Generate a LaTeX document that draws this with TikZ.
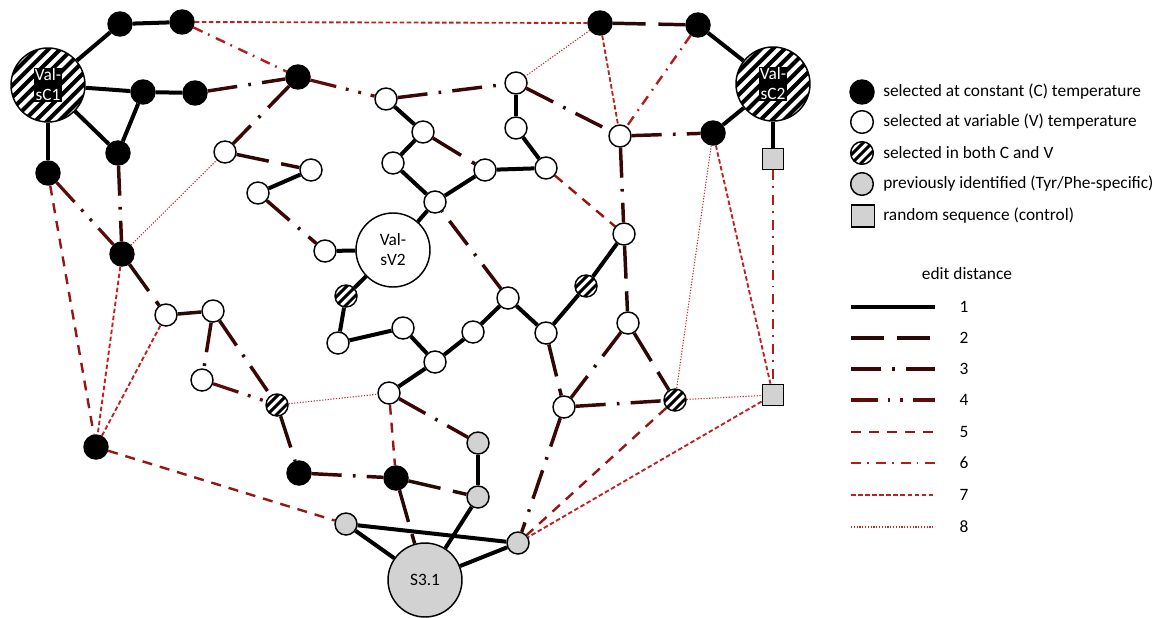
\documentclass[tikz,border=0pt]{standalone}
\usepackage{fontspec}
\setmainfont{Carlito}
\usetikzlibrary{backgrounds}
\definecolor{dtwo}{RGB}{42,8,6}
\definecolor{dthree}{RGB}{58,6,6}
\definecolor{dfour}{RGB}{92,12,12}
\definecolor{dfive}{RGB}{150,22,22}
\definecolor{dsix}{RGB}{178,28,28}
\definecolor{dseven}{RGB}{192,32,32}
\definecolor{deight}{RGB}{205,40,40}
\definecolor{seqgray}{RGB}{210,210,210}
\tikzset{
  base/.style={draw=black, line width=1.1pt, inner sep=0pt},
  cnode/.style={base, circle, fill=black, minimum size=18pt},
  vnode/.style={base, circle, fill=white, minimum size=16.5pt},
  pnode/.style={base, circle, fill=seqgray, minimum size=16.5pt},
  rnode/.style={base, rectangle, fill=seqgray, minimum size=16pt},
  hnode/.style={base, circle, fill=white, minimum size=16.5pt,
    path picture={\foreach \k in {-6,...,6}{
      \draw[line width=2.2pt] ([shift={(\k*3.4pt-20pt,-\k*3.4pt-20pt)}]path picture bounding box.center) -- ++(40pt,40pt);}}},
  hbig/.style={base, circle, fill=white, minimum size=55.5pt,
    path picture={\foreach \k in {-10,...,10}{
      \draw[line width=3pt] ([shift={(\k*4.4pt-45pt,-\k*4.4pt-45pt)}]path picture bounding box.center) -- ++(90pt,90pt);}}},
  vbig/.style={base, circle, fill=white, minimum size=55.5pt, align=center},
  pbig/.style={base, circle, fill=seqgray, minimum size=55.5pt},
  tag/.style={fill=black, text=white, align=center, inner xsep=0.8pt, inner ysep=1pt},
  lgtext/.style={anchor=west, inner sep=0pt},
  e1/.style={line width=3pt, black},
  e2/.style={line width=2.6pt, dtwo, dash pattern=on 24.7pt off 9.5pt},
  e3/.style={line width=2.6pt, dthree, dash pattern=on 22.5pt off 8.4pt on 2pt off 8.4pt},
  e4/.style={line width=2.4pt, dfour, dash pattern=on 20pt off 7.4pt on 2.2pt off 7.4pt on 2.2pt off 7.4pt},
  e5/.style={line width=1.8pt, dfive, dash pattern=on 7.5pt off 6pt},
  e6/.style={line width=1.8pt, dsix, dash pattern=on 7.5pt off 4.5pt on 1.3pt off 5.3pt},
  e7/.style={line width=1.4pt, dseven, dash pattern=on 3.4pt off 1.9pt},
  e8/.style={line width=0.8pt, deight, dash pattern=on 0.9pt off 1.2pt}
}
\begin{document}
\begin{tikzpicture}[x=0.75pt, y=-0.75pt, font=\fontsize{13}{15}\selectfont]
\useasboundingbox (0,0) rectangle (1159,617);

% large sequence nodes
\node[hbig] (VC1) at (48,85) {};
\node[tag] (VC1t) at (VC1) {Val-\\sC1};
\node[hbig] (VC2) at (773,84) {};
\node[tag] (VC2t) at (VC2) {Val-\\sC2};
\node[vbig] (VV2) at (393,250) {Val-\\sV2};
\node[pbig] (S31) at (425,580) {S3.1};

% constant temperature
\node[cnode] (B1) at (120,24) {};
\node[cnode] (B2) at (182,22) {};
\node[cnode] (B3) at (143,92) {};
\node[cnode] (B4) at (195,93) {};
\node[cnode] (B5) at (298,77) {};
\node[cnode] (B6) at (118,153) {};
\node[cnode] (B7) at (48,173) {};
\node[cnode] (B8) at (122,254) {};
\node[cnode] (B9) at (96,447) {};
\node[cnode] (B10) at (299,473) {};
\node[cnode] (B11) at (396,478) {};
\node[cnode] (B12) at (600,23) {};
\node[cnode] (B13) at (698,25) {};
\node[cnode] (B14) at (713,133) {};

% variable temperature
\node[vnode] (W1) at (225,152) {};
\node[vnode] (W2) at (311,170) {};
\node[vnode] (W3) at (258,193) {};
\node[vnode] (W4) at (325,251) {};
\node[vnode] (W5) at (166,315) {};
\node[vnode] (W6) at (213,311) {};
\node[vnode] (W7) at (202,380) {};
\node[vnode] (W8) at (386,99) {};
\node[vnode] (W9) at (423,132) {};
\node[vnode] (W10) at (393,163) {};
\node[vnode] (W11) at (435,202) {};
\node[vnode] (W12) at (485,170) {};
\node[vnode] (W13) at (516,83) {};
\node[vnode] (W14) at (516,128) {};
\node[vnode] (W15) at (546,168) {};
\node[vnode] (W16) at (620,136) {};
\node[vnode] (W17) at (338,343) {};
\node[vnode] (W18) at (403,328) {};
\node[vnode] (W19) at (435,362) {};
\node[vnode] (W20) at (473,332) {};
\node[vnode] (W21) at (508,298) {};
\node[vnode] (W22) at (546,333) {};
\node[vnode] (W23) at (624,234) {};
\node[vnode] (W24) at (628,323) {};
\node[vnode] (W25) at (389,393) {};
\node[vnode] (W26) at (564,407) {};

% both conditions
\node[hnode] (H1) at (346,296) {};
\node[hnode] (H2) at (586,286) {};
\node[hnode] (H3) at (277,405) {};
\node[hnode] (H4) at (675,400) {};

% previously identified
\node[pnode] (G1) at (478,443) {};
\node[pnode] (G2) at (478,497) {};
\node[pnode] (G3) at (346,524) {};
\node[pnode] (G4) at (518,543) {};

% random controls
\node[rnode] (Q1) at (773,159) {};
\node[rnode] (Q2) at (773,395) {};

\begin{scope}[on background layer]
\foreach \a/\b in {VC1/B1, B1/B2, VC1/B3, B3/B4, B3/B6, VC1/B6, VC1/B7, W2/W3,
  W4/VV2, VV2/H1, H1/W17, W17/W18, W18/W19, W19/W20, W20/W21, W21/W22, W22/H2,
  H2/W23, W19/W25, VV2/W11, W11/W10, W10/W9, W9/W8, W11/W12, W12/W15, W15/W14,
  W14/W13, B13/VC2, B14/VC2, VC2/Q1, G1/G2, G2/S31, G3/G4, G3/S31, S31/G4}
  \draw[e1] (\a) -- (\b);
\foreach \a/\b in {W1/W2, W9/W12, B12/B13, B8/W5, W5/W6, W23/W24, W24/H4,
  H3/B10, W22/W26, B11/G2, B11/S31}
  \draw[e2] (\a) -- (\b);
\foreach \a/\b in {B4/B5, B5/W1, B6/B8, W3/W4, W6/W7, W6/H3, B10/B11, W8/W13,
  W13/W16, W16/B14, W16/W23, W21/W11, W24/W26, W26/H4, W26/G4, W25/G1}
  \draw[e3] (\a) -- (\b);
\foreach \a/\b in {B5/W8, B7/B8, W7/H3}
  \draw[e4] (\a) -- (\b);
\foreach \a/\b in {B7/B9, B9/G3, W15/W23, W25/B11, H4/G4}
  \draw[e5] (\a) -- (\b);
\foreach \a/\b in {B2/B5, B13/W16, Q1/Q2}
  \draw[e6] (\a) -- (\b);
\foreach \a/\b in {B2/B12, B12/W16, B8/B9, B9/W5, B14/Q2, Q2/G4}
  \draw[e7] (\a) -- (\b);
\foreach \a/\b in {B8/W1, B12/W13, H3/W25, B14/H4, H4/Q2}
  \draw[e8] (\a) -- (\b);
\end{scope}

% node legend
\node[cnode] (Lc) at (862,92) {};
\node[lgtext] (Lct) at (883,92) {selected at constant (C) temperature};
\node[vnode, minimum size=17pt] (Lv) at (862,122) {};
\node[lgtext] (Lvt) at (883,122) {selected at variable (V) temperature};
\node[hnode, minimum size=17pt] (Lh) at (862,153) {};
\node[lgtext] (Lht) at (883,153) {selected in both C and V};
\node[pnode, minimum size=17pt] (Lp) at (862,184) {};
\node[lgtext] (Lpt) at (883,184) {previously identified (Tyr/Phe-specific)};
\node[rnode, minimum width=17.5pt, minimum height=16.5pt] (Lr) at (863,216) {};
\node[lgtext] (Lrt) at (883,216) {random sequence (control)};

% edge legend
\node (Ltitle) at (967,274) {edit distance};
\foreach \i/\y in {1/307, 2/338, 3/369, 4/400, 5/432, 6/463, 7/495, 8/527}{
  \coordinate (La\i) at (851,\y);
  \coordinate (Lb\i) at (935,\y);
  \draw[e\i] (La\i) -- (Lb\i);
  \node (Ln\i) at (964,\y) {\i};
}
\end{tikzpicture}
\end{document}
